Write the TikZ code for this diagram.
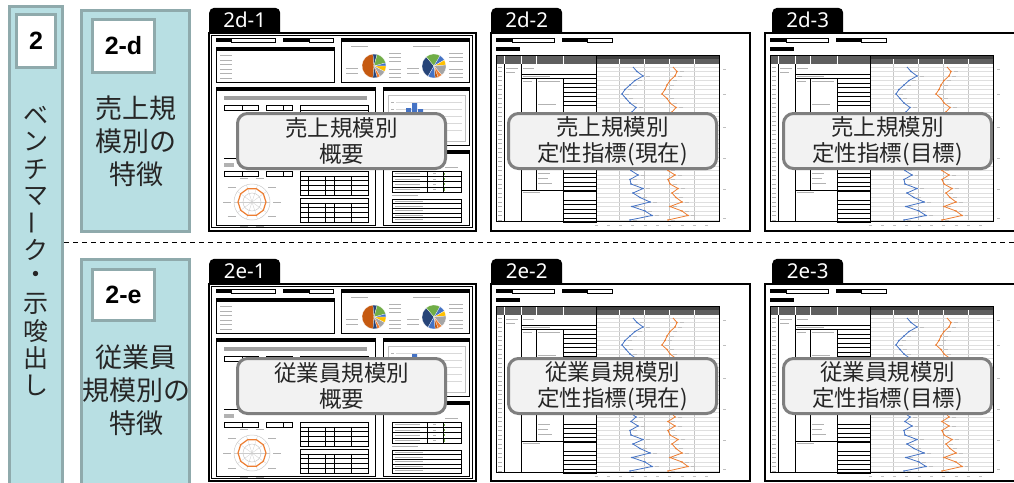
\documentclass[tikz,border=0pt]{standalone}
\usepackage{fontspec}
\setmainfont{Noto Sans}
\newfontfamily\jpfont{Noto Sans CJK JP}
\newfontfamily\numfont{Liberation Sans}
\usetikzlibrary{positioning}
\pgfdeclarelayer{back}
\pgfsetlayers{back,main}
\definecolor{tealfill}{RGB}{184,223,227}
\definecolor{tealline}{RGB}{143,170,172}
\definecolor{boxgray}{RGB}{242,242,242}
\definecolor{boxline}{RGB}{127,127,127}
\definecolor{hdrgray}{RGB}{95,95,95}
\definecolor{xlblue}{RGB}{68,114,196}
\definecolor{xlorange}{RGB}{237,125,49}
\definecolor{xlgreen}{RGB}{112,173,71}
\definecolor{xlyellow}{RGB}{255,192,0}
\definecolor{xlgray}{RGB}{165,165,165}
\definecolor{xlbrown}{RGB}{197,90,17}
\definecolor{xlnavy}{RGB}{38,68,120}
\newcommand{\bluerest}{147,153,145,140,135,132,136,140,146,142,138,145,150,141,137,143,148,139,144,149,140,146,141,148,140,141,153,143,150,160,142,155,162,140}
\newcommand{\orangerest}{187,185,180,177,175,172,177,180,186,182,178,184,189,181,177,183,188,179,184,190,181,185,178,185,178,180,188,182,186,192,180,192,198,178}
\tikzset{
  tealbox/.style={draw=tealline,fill=tealfill,line width=3pt},
  numbox/.style={draw=tealline,fill=white,line width=3pt,inner sep=0pt,font=\numfont\bfseries\fontsize{25}{25}\selectfont},
  cattext/.style={align=center,inner sep=0pt,font=\jpfont\fontsize{27}{33}\selectfont,text=black!85},
  vchar/.style={inner sep=0pt,font=\jpfont\fontsize{25}{25}\selectfont,text=black!85},
  sheet/.style={draw,fill=white,line width=2pt,inner sep=0pt},
  tabnode/.style={fill=black,rounded corners=5pt,text=white,font=\fontsize{20.5}{20.5}\selectfont,minimum width=71pt,inner xsep=0pt,inner ysep=0pt,text height=20pt,text depth=10pt},
  capbox/.style={draw=boxline,fill=boxgray,line width=3pt,rounded corners=10pt,minimum width=208pt,minimum height=55pt,align=center,inner sep=0pt,font=\jpfont\fontsize{22.5}{26}\selectfont,text=black!85},
  hair/.style={line width=0.5pt},
  txtline/.style={gray!60,line width=0.6pt}
}
\newcommand{\overview}[1]{%
\begin{scope}[shift={(#1.north west)}]
  \draw[hair] (3,3) rectangle (264,195);
  \fill (8,6) rectangle (23,10); \draw[hair] (23,6) rectangle (67,10);
  \fill (75,6) rectangle (101,10); \draw[hair] (101,6) rectangle (125,10);
  \draw[line width=0.8pt] (8,15) rectangle (126,50); \fill (8,15) rectangle (126,19);
  \foreach \k in {0,...,5} \draw[txtline] (12,23.5+4.5*\k) -- (24,23.5+4.5*\k);
  \draw[line width=0.8pt] (133,6) rectangle (261,50); \fill (133,6) rectangle (261,10);
  \draw[txtline] (143,14) -- (160,14); \draw[txtline] (205,14) -- (232,14);
  \foreach \a/\b/\c in {95/265/xlbrown,265/285/xlnavy,285/345/xlgreen,345/360/xlblue,0/28/xlyellow,28/60/xlgray,60/75/xlorange,75/95/xlnavy}
    \fill[\c,draw=white,line width=0.2pt] (166,34) -- ++(\a:12) arc[start angle=\a,end angle=\b,radius=12] -- cycle;
  \foreach \a/\b/\c in {120/230/xlnavy,230/300/xlgreen,300/330/xlblue,330/355/xlyellow,355/410/xlgray,50/70/xlorange,70/85/xlbrown,85/120/xlblue}
    \fill[\c,draw=white,line width=0.2pt] (226,34) -- ++(\a:12) arc[start angle=\a,end angle=\b,radius=12] -- cycle;
  \foreach \y in {21,25,29,37,41,45} {\draw[txtline,line width=0.4pt] (181,\y) -- (193,\y); \draw[txtline,line width=0.4pt] (241,\y) -- (255,\y);}
  \foreach \y in {36,41} {\draw[txtline,line width=0.4pt] (138,\y) -- (150,\y); \draw[txtline,line width=0.4pt] (199,\y) -- (211,\y);}
  \draw[line width=0.8pt] (8,55) rectangle (167,193); \fill (8,55) rectangle (167,59);
  \fill[gray!75] (16,64) rectangle (159,68);
  \draw[hair] (16,73) rectangle (50,78); \draw[hair] (34,73) -- (34,78);
  \draw[hair] (58,73) rectangle (84,78); \draw[hair] (75,73) -- (75,78);
  \draw[hair] (92,73) rectangle (160,78); \draw[hair] (92,78) rectangle (160,83);
  \draw[line width=0.8pt] (16,126) -- (160,126);
  \fill[gray!60] (16,131) rectangle (26,135);
  \draw[hair] (16,139) rectangle (50,144); \draw[hair] (34,139) -- (34,144);
  \draw[hair] (58,139) rectangle (84,144); \draw[hair] (75,139) -- (75,144);
  \begin{scope}[shift={(44,170)}]
    \draw[gray!40,hair] (0,0) circle (18pt) (0,0) circle (9pt);
    \foreach \a in {0,36,...,324} {\draw[gray!40,line width=0.3pt] (0,0) -- (\a:18); \draw[txtline,line width=0.4pt] (\a:25) ++(-4,0) -- ++(8,0);}
    \draw[xlorange,line width=1.2pt] (0:14) \foreach \a in {36,72,...,324} {-- (\a:14)} -- cycle;
  \end{scope}
  \foreach \y in {139,166} {
    \draw[hair] (92,\y) rectangle (160,\y+24);
    \foreach \k in {1,...,4} \draw[hair] (92,\y+4.8*\k) -- (160,\y+4.8*\k);
    \foreach \x in {100,117,126,143} \draw[hair] (\x,\y+4.8) -- (\x,\y+24);
  }
  \draw[line width=0.8pt] (175,55) rectangle (261,113); \fill (175,55) rectangle (261,59);
  \draw[gray!50,hair] (180,63) rectangle (257,109);
  \foreach \y in {70,77,84,91,98} {\draw[gray!30,line width=0.3pt] (188,\y) -- (254,\y); \draw[txtline,line width=0.4pt] (183,\y) -- (186,\y);}
  \fill[xlblue] (198,76) rectangle (203,105) (204,71) rectangle (209,105) (210,77) rectangle (215,105);
  \draw[line width=0.8pt] (175,118) rectangle (261,193); \fill (175,118) rectangle (261,122);
  \draw[txtline] (237,135) -- (250,135);
  \draw[hair] (184,139) rectangle (253,160);
  \foreach \k in {1,...,3} \draw[hair] (184,139+5.25*\k) -- (253,139+5.25*\k);
  \foreach \x in {219,235} \draw[hair] (\x,139) -- (\x,160);
  \foreach \k in {0,...,3} {\fill[xlgreen] (236,140.5+5.25*\k) rectangle (237.2,142.8+5.25*\k); \draw[txtline,line width=0.5pt] (187,141.6+5.25*\k) -- (212,141.6+5.25*\k); \draw[txtline,line width=0.5pt] (225,141.6+5.25*\k) -- (228,141.6+5.25*\k);}
  \draw[txtline] (184,163.5) -- (210,163.5);
  \draw[hair] (184,167) rectangle (253,190);
  \foreach \k in {1,...,4} \draw[hair] (184,167+4.6*\k) -- (253,167+4.6*\k);
  \foreach \k in {0,...,4} \draw[txtline,line width=0.5pt] (187,169.3+4.6*\k) -- (215,169.3+4.6*\k);
\end{scope}}
\newcommand{\indicator}[1]{%
\begin{scope}[shift={(#1.north west)}]
  \fill (6,6) rectangle (22,10); \draw[hair] (22,6) rectangle (64,10);
  \fill (72,6) rectangle (97,10); \draw[hair] (97,6) rectangle (122,10);
  \fill (6,15) rectangle (30,19);
  \fill[hdrgray] (6,23) rectangle (229,32);
  \fill[black!75] (106,23) rectangle (229,27);
  \foreach \x in {14,31,46,73} \draw[white,hair] (\x,23) -- (\x,32);
  \foreach \x in {129,154,179,204} {\draw[gray!45,hair] (\x,32) -- (\x,189); \draw[white,line width=0.3pt] (\x,27) -- (\x,32);}
  \foreach \i in {0,...,34} {\draw[gray!25,line width=0.3pt] (106,35+4.5*\i) -- (229,35+4.5*\i); \draw[txtline,line width=0.5pt] (8,35+4.5*\i) -- (12,35+4.5*\i);}
  \draw[line width=0.8pt] (6,23) rectangle (229,189);
  \draw[hair] (14,32) -- (14,189) (31,32) -- (31,189);
  \draw[line width=0.8pt] (106,23) -- (106,189);
  \draw[hair] (31,42) -- (106,42) (31,46) -- (106,46) (46,46) -- (46,158) (73,46) -- (73,189) (31,158) -- (106,158);
  \foreach \i in {4,...,8} \draw[hair] (73,32.75+4.5*\i) rectangle (106,37.25+4.5*\i);
  \foreach \i in {24,...,27} \draw[hair] (73,32.75+4.5*\i) rectangle (106,37.25+4.5*\i);
  \foreach \i in {30,...,34} \draw[hair] (73,32.75+4.5*\i) rectangle (106,37.25+4.5*\i);
  \draw[txtline] (16,36) -- (28,36) (16,40) -- (25,40) (33,36) -- (44,36) (33,44) -- (60,44) (33,49) -- (42,49) (48,49) -- (70,49) (48,72) -- (66,72) (48,141) -- (60,141) (48,146) -- (58,146) (48,151) -- (62,151) (33,160) -- (50,160);
  \draw[xlblue,line width=0.8pt] (143,35) \foreach \x [count=\i] in \bluerest {-- (\x,35+4.5*\i)};
  \draw[xlorange,line width=0.8pt] (183,35) \foreach \x [count=\i] in \orangerest {-- (\x,35+4.5*\i)};
  \foreach \x [count=\i] in \bluerest {\fill[xlblue] (\x,35+4.5*\i) circle (0.8pt); \draw[gray!50,line width=0.3pt] (\x+3,35+4.5*\i) -- ++(4,0);}
  \foreach \x [count=\i] in \orangerest {\fill[xlorange] (\x,35+4.5*\i) circle (0.8pt); \draw[gray!50,line width=0.3pt] (\x+3,35+4.5*\i) -- ++(4,0);}
  \foreach \x in {106,118.3,...,229} \draw[gray!50,line width=0.4pt] (\x-1.5,193) -- (\x+1.5,193);
  \foreach \y in {37,62,95,126,157,186} \draw[gray!50,line width=0.4pt] (233,\y) -- (236,\y);
\end{scope}}

\begin{document}
\begin{tikzpicture}[x=1pt,y=-1pt]
\useasboundingbox (0,0) rectangle (1014,482);
\draw[tealbox] (9.5,6.5) rectangle (62.5,500);
\draw[tealbox] (81.5,10.5) rectangle (189.5,231.5);
\draw[tealbox] (81.5,259.5) rectangle (189.5,500);
\node[numbox,minimum width=39pt,minimum height=53pt] (n2) at (36,41) {2};
\node[numbox,minimum width=62pt,minimum height=53pt] (n2d) at (123.5,46) {2-d};
\node[numbox,minimum width=62pt,minimum height=51pt] (n2e) at (123.5,295) {2-e};
\foreach \ch/\r [count=\i from 0] in {ベ/0,ン/0,チ/0,マ/0,ー/90,ク/0,・/0,示/0,唆/0,出/0,し/0}
  \node[vchar,rotate=\r] (v\i) at (36,115+27*\i) {\ch};
\node[cattext] (dtxt) at (136,141) {売上規\\模別の\\特徴};
\node[cattext] (etxt) at (136,390) {従業員\\規模別の\\特徴};
\coordinate (sepl) at (64,242);
\coordinate (sepr) at (1014,242);
\draw[dash pattern=on 5pt off 4pt,line width=1pt] (sepl) -- (sepr);

\node[sheet,minimum width=267pt,minimum height=198pt] (s1) at (342.5,132) {};
\node[sheet,minimum width=259pt,minimum height=198pt] (s2) at (620.5,132) {};
\node[sheet,minimum width=266pt,minimum height=198pt] (s3) at (898,132) {};
\node[sheet,minimum width=267pt,minimum height=197pt] (s4) at (342.5,382.5) {};
\node[sheet,minimum width=259pt,minimum height=197pt] (s5) at (620.5,382.5) {};
\node[sheet,minimum width=266pt,minimum height=197pt] (s6) at (898,382.5) {};
\begin{pgfonlayer}{back}
\node[tabnode,above right=-6pt and 1pt of s1.north west] (t1) {2d-1};
\node[tabnode,above right=-6pt and 1pt of s2.north west] (t2) {2d-2};
\node[tabnode,above right=-6pt and 8pt of s3.north west] (t3) {2d-3};
\node[tabnode,above right=-6pt and 1pt of s4.north west] (t4) {2e-1};
\node[tabnode,above right=-6pt and 1pt of s5.north west] (t5) {2e-2};
\node[tabnode,above right=-6pt and 8pt of s6.north west] (t6) {2e-3};
\end{pgfonlayer}
\overview{s1}
\indicator{s2}
\indicator{s3}
\overview{s4}
\indicator{s5}
\indicator{s6}

\node[capbox] (o1) at (341.5,141) {売上規模別\\概要};
\node[capbox] (o2) at (612.5,141) {売上規模別\\定性指標(現在)};
\node[capbox] (o3) at (887.5,141) {売上規模別\\定性指標(目標)};
\node[capbox] (o4) at (341.5,386) {従業員規模別\\概要};
\node[capbox] (o5) at (612.5,386) {従業員規模別\\定性指標(現在)};
\node[capbox] (o6) at (887.5,386) {従業員規模別\\定性指標(目標)};
\end{tikzpicture}
\end{document}
